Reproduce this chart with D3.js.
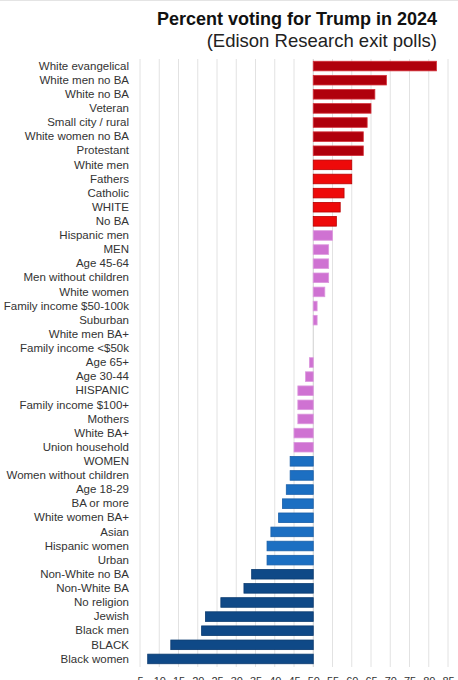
<!DOCTYPE html>
<html>
<head>
<meta charset="utf-8">
<script src="https://cdn.jsdelivr.net/npm/d3@7"></script>
<style>
  html, body { margin: 0; padding: 0; background: #fff; }
  svg { display: block; }
</style>
</head>
<body>
<div id="chart"></div>
<script>
// chart data
const categories = [
  'White evangelical', 'White men no BA', 'White no BA', 'Veteran',
  'Small city / rural', 'White women no BA', 'Protestant', 'White men',
  'Fathers', 'Catholic', 'WHITE', 'No BA', 'Hispanic men', 'MEN',
  'Age 45-64', 'Men without children', 'White women',
  'Family income $50-100k', 'Suburban', 'White men BA+',
  'Family income <$50k', 'Age 65+', 'Age 30-44', 'HISPANIC',
  'Family income $100+', 'Mothers', 'White BA+', 'Union household',
  'WOMEN', 'Women without children', 'Age 18-29', 'BA or more',
  'White women BA+', 'Asian', 'Hispanic women', 'Urban',
  'Non-White no BA', 'Non-White BA', 'No religion', 'Jewish',
  'Black men', 'BLACK', 'Black women',
]

const trumpShare = [
  82, 69, 66, 65, 64, 63, 63, 60, 60, 58, 57, 56, 55, 54, 54, 54, 53,
  51, 51, 50, 50, 49, 48, 46, 46, 46, 45, 45, 44, 44, 43, 42, 41, 39,
  38, 38, 34, 32, 26, 22, 21, 13, 7,
]

// colour group of each bar (0 = darkest red ... 4 = darkest blue)
const colorGroup = [
  0, 0, 0, 0, 0, 0, 0, 1, 1, 1, 1, 1, 2, 2, 2, 2, 2, 2, 2, 2, 2, 2, 2,
  2, 2, 2, 2, 2, 3, 3, 3, 3, 3, 3, 3, 3, 4, 4, 4, 4, 4, 4, 4,
]

const xTicks = [5, 10, 15, 20, 25, 30, 35, 40, 45, 50, 55, 60, 65, 70, 75, 80, 85]

const fills = ['#b0000c', '#ee0a0a', '#cf72d2', '#1c6fc2', '#0f4987']
const strokes = ['#d4303a', '#b80000', '#dc98de', '#1a5fa8', '#0b3b70']

const width = 458
const height = 680
const plot = { left: 140, right: 448, top: 59, bottom: 666 }
const font = 'Liberation Sans, Arial, sans-serif'

const svg = d3
  .select('#chart')
  .append('svg')
  .attr('width', width)
  .attr('height', height)

// faint screenshot edge along the top
svg
  .append('line')
  .attr('x1', 0)
  .attr('x2', width)
  .attr('y1', 0.5)
  .attr('y2', 0.5)
  .attr('stroke', '#e4e4e4')

// title block, right aligned
svg
  .append('text')
  .attr('x', 437)
  .attr('y', 25)
  .attr('text-anchor', 'end')
  .style('font-family', font)
  .style('font-size', '18px')
  .style('font-weight', 'bold')
  .style('fill', '#111')
  .text('Percent voting for Trump in 2024')

svg
  .append('text')
  .attr('x', 437)
  .attr('y', 47)
  .attr('text-anchor', 'end')
  .style('font-family', font)
  .style('font-size', '18.5px')
  .style('fill', '#222')
  .text('(Edison Research exit polls)')

// scales
const x = d3.scaleLinear().domain([5, 85]).range([plot.left, plot.right])

const y = d3
  .scaleBand()
  .domain(categories)
  .range([plot.top, plot.bottom])
  .paddingInner(0.32)
  .paddingOuter(0.16)

// vertical grid lines
svg
  .append('g')
  .attr('class', 'grid')
  .selectAll('line')
  .data(xTicks)
  .enter()
  .append('line')
  .attr('x1', d => x(d))
  .attr('x2', d => x(d))
  .attr('y1', plot.top)
  .attr('y2', plot.bottom + 1)
  .attr('stroke', d => (d === 50 ? '#cfcfcf' : '#e2e2e2'))
  .attr('stroke-width', 1)

// bars diverge from 50%
svg
  .append('g')
  .attr('class', 'bars')
  .selectAll('rect')
  .data(categories)
  .enter()
  .append('rect')
  .attr('x', (d, i) => x(Math.min(50, trumpShare[i])))
  .attr('y', d => y(d))
  .attr('width', (d, i) => Math.abs(x(trumpShare[i]) - x(50)))
  .attr('height', y.bandwidth())
  .attr('fill', (d, i) => fills[colorGroup[i]])
  .attr('stroke', (d, i) => strokes[colorGroup[i]])
  .attr('stroke-width', 0.8)

// category labels
const yAxis = svg
  .append('g')
  .attr('class', 'y-axis')
  .attr('transform', `translate(${plot.left - 11},0)`)
  .call(d3.axisLeft(y).tickSize(0).tickPadding(0))

yAxis.select('.domain').remove()
yAxis
  .selectAll('text')
  .style('font-family', font)
  .style('font-size', '11.5px')
  .style('fill', '#333')

// bottom tick labels, mostly cut off by the frame edge
const xAxis = svg
  .append('g')
  .attr('class', 'x-axis')
  .attr('transform', `translate(0,${plot.bottom})`)
  .call(d3.axisBottom(x).tickValues(xTicks).tickSize(0).tickPadding(11))

xAxis.select('.domain').remove()
xAxis
  .selectAll('text')
  .style('font-family', font)
  .style('font-size', '11px')
  .style('fill', '#333')
</script>
</body>
</html>
